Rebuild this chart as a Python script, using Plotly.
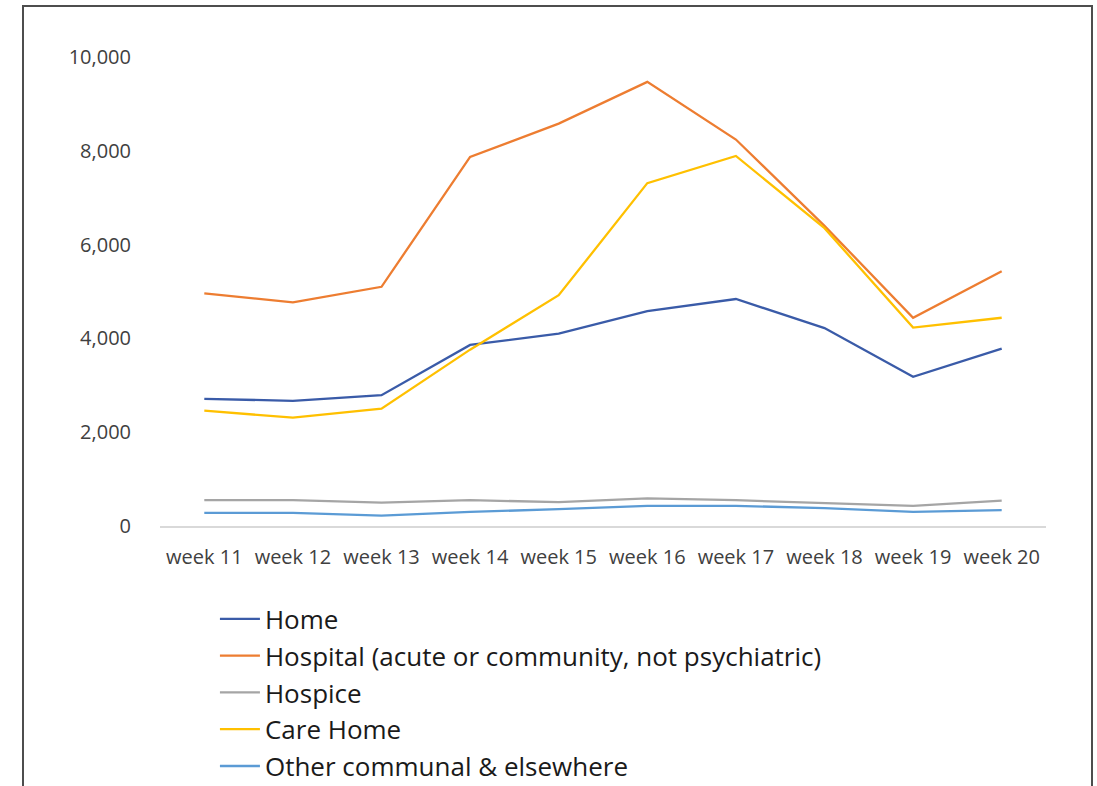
import plotly.graph_objects as go

weeks = ["week 11", "week 12", "week 13", "week 14", "week 15",
         "week 16", "week 17", "week 18", "week 19", "week 20"]

home = [2710, 2670, 2790, 3860, 4100, 4580, 4840, 4220, 3180, 3780]
hospital = [4960, 4770, 5100, 7870, 8580, 9470, 8240, 6400, 4440, 5430]
hospice = [550, 550, 500, 550, 510, 590, 550, 490, 430, 540]
care_home = [2460, 2310, 2500, 3760, 4920, 7310, 7890, 6350, 4230, 4440]
other = [280, 280, 220, 300, 360, 430, 430, 380, 300, 340]

series_names = ["Home", "Hospital (acute or community, not psychiatric)",
                "Hospice", "Care Home", "Other communal & elsewhere"]
series_values = [home, hospital, hospice, care_home, other]
series_colors = ["#3A5BA8", "#ED7D31", "#A5A5A5", "#FFC000", "#5B9BD5"]

fig = go.Figure()
for i, (name, vals, col) in enumerate(zip(series_names, series_values, series_colors)):
    fig.add_trace(go.Scatter(
        x=weeks, y=vals, name=name, mode="lines",
        line=dict(color=col, width=2.3),
        legendgroup=f"g{i}",
    ))

FONT = "Open Sans"
fig.update_layout(
    width=1097, height=786,
    margin=dict(l=160, r=51, t=57, b=260, autoexpand=False),
    paper_bgcolor="white", plot_bgcolor="white",
    font=dict(family=FONT, color="#404040", size=20),
    showlegend=True,
    legend=dict(
        orientation="v", x=0.062, xanchor="left", y=-0.148, yanchor="top",
        font=dict(family=FONT, size=26, color="#1A1A1A"),
        traceorder="grouped", tracegroupgap=0, itemwidth=40,
        bgcolor="rgba(0,0,0,0)",
    ),
    xaxis=dict(
        type="category", range=[-0.5, 9.5], showgrid=False, showline=True,
        linecolor="#D9D9D9", linewidth=1.5, ticks="",
        tickfont=dict(family=FONT, size=20, color="#404040"),
        ticklabelstandoff=12,
    ),
    yaxis=dict(
        range=[0, 10000], dtick=2000, tickformat=",", showgrid=False,
        zeroline=False, showline=False, ticks="",
        tickfont=dict(family=FONT, size=20, color="#404040"),
        ticklabelstandoff=28,
    ),
)

fig.add_shape(type="rect", xref="paper", yref="paper",
              x0=(23 - 160) / 886, x1=(1092 - 160) / 886,
              y0=-1.0, y1=(526 - 6) / 469,
              line=dict(color="#4D4D4D", width=2), fillcolor="rgba(0,0,0,0)",
              layer="below")

fig.write_html("out.html", config={"displayModeBar": False},
               post_script="document.body.style.margin='0px';")
